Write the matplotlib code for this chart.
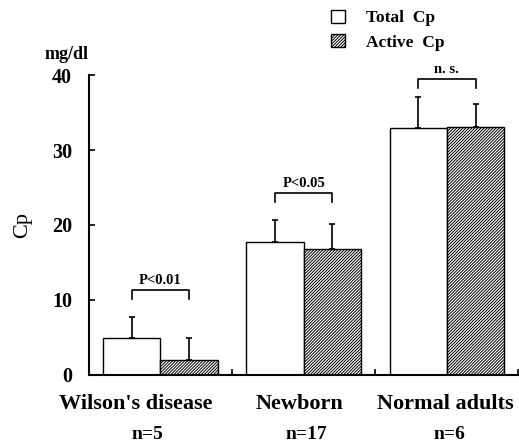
import matplotlib
matplotlib.use('Agg')
import matplotlib.pyplot as plt
import numpy as np

plt.rcParams['font.family'] = ['Liberation Serif', 'DejaVu Serif']
plt.rcParams['font.weight'] = 'bold'
plt.rcParams['hatch.linewidth'] = 0.7

# data
groups = ["Wilson's disease", "Newborn", "Normal adults"]
n_labels = ["n=5", "n=17", "n=6"]
total_cp = [4.9, 17.7, 32.9]
total_err = [2.8, 3.0, 4.2]
active_cp = [2.0, 16.8, 33.1]
active_err = [2.9, 3.3, 3.0]
sig_labels = ["P<0.01", "P<0.05", "n. s."]
sig_heights = [11.3, 24.3, 39.5]

fig = plt.figure(figsize=(5.19, 4.42), dpi=100)
ax = fig.add_axes([0.171, 0.152, 0.828, 0.678])

x = np.arange(len(groups))
w = 0.4
ax.bar(x - w / 2, total_cp, w, color='white', edgecolor='black', linewidth=1.0,
       yerr=[np.zeros(3), total_err], error_kw=dict(ecolor='black', elinewidth=1.2, capsize=2.5, capthick=1.2),
       label='Total  Cp')
ax.bar(x + w / 2, active_cp, w, color='white', edgecolor='black', linewidth=1.0, hatch='///////////',
       yerr=[np.zeros(3), active_err], error_kw=dict(ecolor='black', elinewidth=1.2, capsize=2.5, capthick=1.2),
       label='Active  Cp')

# significance brackets
for i in range(3):
    h = sig_heights[i]
    ax.plot([x[i] - w / 2, x[i] - w / 2, x[i] + w / 2, x[i] + w / 2],
            [h - 1.2, h, h, h - 1.2], color='black', lw=1.2, clip_on=False)
    ax.text(x[i], h + 0.4, sig_labels[i], ha='center', va='bottom', fontsize=10.5)

ax.set_xlim(-0.5, 2.5)
ax.set_ylim(0, 40)
ax.set_yticks([0, 10, 20, 30, 40])
ax.set_xticks([0.5, 1.5, 2.5])
ax.set_xticklabels([])
ax.tick_params(direction='in', length=4, width=1.2, labelsize=14.5)
ax.tick_params(axis='y', pad=12)
for s in ['top', 'right']:
    ax.spines[s].set_visible(False)
for s in ['left', 'bottom']:
    ax.spines[s].set_linewidth(1.5)

label_x = [-0.17, 0.97, 1.99]
n_x = [-0.09, 1.02, 2.02]
for i in range(3):
    ax.text(label_x[i], -2.5, groups[i], ha='center', va='top', fontsize=16)
    ax.text(n_x[i], -6.8, n_labels[i], ha='center', va='top', fontsize=14)

ax.text(0.0, 1.04, 'mg/dl', ha='right', va='bottom', fontsize=13, transform=ax.transAxes)
ax.set_ylabel('Cp', fontsize=16, labelpad=14)

fig.legend(loc='upper left', bbox_to_anchor=(0.638, 0.978), frameon=False, fontsize=12.5,
           handlelength=0.8, handleheight=0.8, handletextpad=1.2, labelspacing=0.45,
           borderpad=0, borderaxespad=0)

fig.savefig('out.png', dpi=100)
